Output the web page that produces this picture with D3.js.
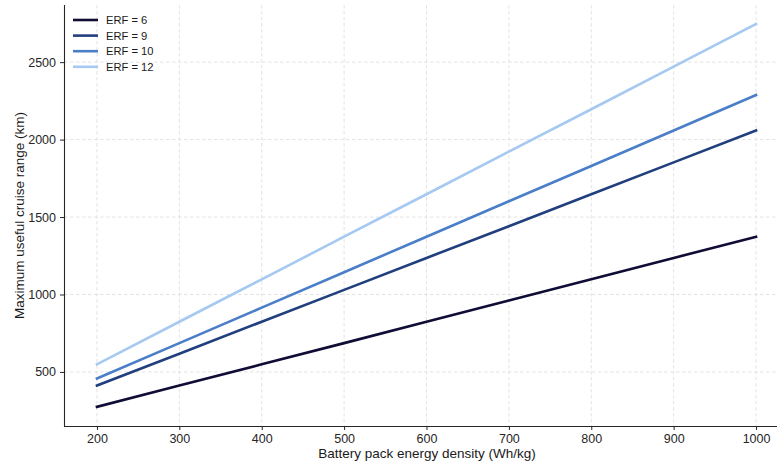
<!DOCTYPE html>
<html>
<head>
<meta charset="utf-8">
<script src="https://cdn.jsdelivr.net/npm/d3@7"></script>
<style>
  html, body { margin: 0; padding: 0; background: #fff; }
  svg { display: block; font-family: "Liberation Sans", Arial, sans-serif; }
</style>
</head>
<body>
<svg id="chart" width="777" height="466"></svg>
<script>
// Battery pack energy density (Wh/kg)
const energyDensity = [200, 300, 400, 500, 600, 700, 800, 900, 1000];

// Maximum useful cruise range (km) for each energy-recovery factor
const erf6  = [275, 412, 549, 686, 824, 961, 1098, 1236, 1373];
const erf9  = [412, 618, 824, 1030, 1236, 1441, 1647, 1853, 2059];
const erf10 = [458, 686, 915, 1144, 1373, 1602, 1830, 2059, 2288];
const erf12 = [549, 824, 1098, 1373, 1647, 1922, 2196, 2471, 2746];

const seriesNames = ["ERF = 6", "ERF = 9", "ERF = 10", "ERF = 12"];
const seriesValues = [erf6, erf9, erf10, erf12];
const seriesColors = ["#0f0c35", "#213f7e", "#4b7ec8", "#a5c9f0"];

const xTicks = [200, 300, 400, 500, 600, 700, 800, 900, 1000];
const yTicks = [500, 1000, 1500, 2000, 2500];

const svg = d3.select("#chart");
const plotLeft = 64, plotTop = 5, plotBottom = 426, plotRight = 789;

const x = d3.scaleLinear().domain([160, 1040]).range([plotLeft, plotRight]);
const y = d3.scaleLinear().domain([151, 2869]).range([plotBottom, plotTop]);

// grid
const grid = svg.append("g");
grid.selectAll(".gx").data(xTicks).join("line")
  .attr("x1", d => x(d)).attr("x2", d => x(d))
  .attr("y1", plotTop).attr("y2", plotBottom)
  .attr("stroke", "#dcdcdc").attr("stroke-width", 0.8)
  .attr("stroke-dasharray", "3.5,2.5");
grid.selectAll(".gy").data(yTicks).join("line")
  .attr("x1", plotLeft).attr("x2", 777)
  .attr("y1", d => y(d)).attr("y2", d => y(d))
  .attr("stroke", "#dcdcdc").attr("stroke-width", 0.8)
  .attr("stroke-dasharray", "3.5,2.5");

// lines
const line = d3.line()
  .x((d, i) => x(energyDensity[i]))
  .y(d => y(d));
svg.append("g").selectAll("path").data(seriesValues).join("path")
  .attr("d", d => line(d))
  .attr("fill", "none")
  .attr("stroke", (d, i) => seriesColors[i])
  .attr("stroke-width", 2.6)
  .attr("stroke-linecap", "square");

// axes
const xAxis = svg.append("g")
  .attr("transform", `translate(0,${plotBottom})`)
  .call(d3.axisBottom(x).tickValues(xTicks).tickSize(4).tickPadding(4).tickFormat(d3.format("d")));
const yAxis = svg.append("g")
  .attr("transform", `translate(${plotLeft},0)`)
  .call(d3.axisLeft(y).tickValues(yTicks).tickSize(4).tickPadding(4).tickFormat(d3.format("d")));
xAxis.select(".domain").attr("d", `M${plotLeft},0.5H777`);
yAxis.select(".domain").attr("d", `M0.5,${plotTop}V${plotBottom}`);
[xAxis, yAxis].forEach(a => {
  a.selectAll(".domain").attr("stroke", "#262626").attr("stroke-width", 1.1);
  a.selectAll(".tick line").attr("stroke", "#262626").attr("stroke-width", 1);
  a.selectAll("text").attr("font-size", 12.5).attr("fill", "#262626")
    .attr("font-family", "'Liberation Sans', Arial, sans-serif");
});

// axis titles
svg.append("text")
  .attr("x", 427).attr("y", 458)
  .attr("text-anchor", "middle").attr("font-size", 13.5).attr("fill", "#1a1a1a")
  .text("Battery pack energy density (Wh/kg)");
svg.append("text")
  .attr("transform", `translate(23.5,${(plotTop + plotBottom) / 2}) rotate(-90)`)
  .attr("text-anchor", "middle").attr("font-size", 13.5).attr("fill", "#1a1a1a")
  .text("Maximum useful cruise range (km)");

// legend
const legend = svg.append("g").attr("transform", "translate(73,20)");
seriesNames.forEach((name, i) => {
  const g = legend.append("g").attr("transform", `translate(0,${i * 15.6})`);
  g.append("line").attr("x1", 0).attr("x2", 25).attr("y1", 0).attr("y2", 0)
    .attr("stroke", seriesColors[i]).attr("stroke-width", 2.6);
  g.append("text").attr("x", 33).attr("y", 4)
    .attr("font-size", 11.2).attr("fill", "#1a1a1a").text(name);
});
</script>
</body>
</html>
